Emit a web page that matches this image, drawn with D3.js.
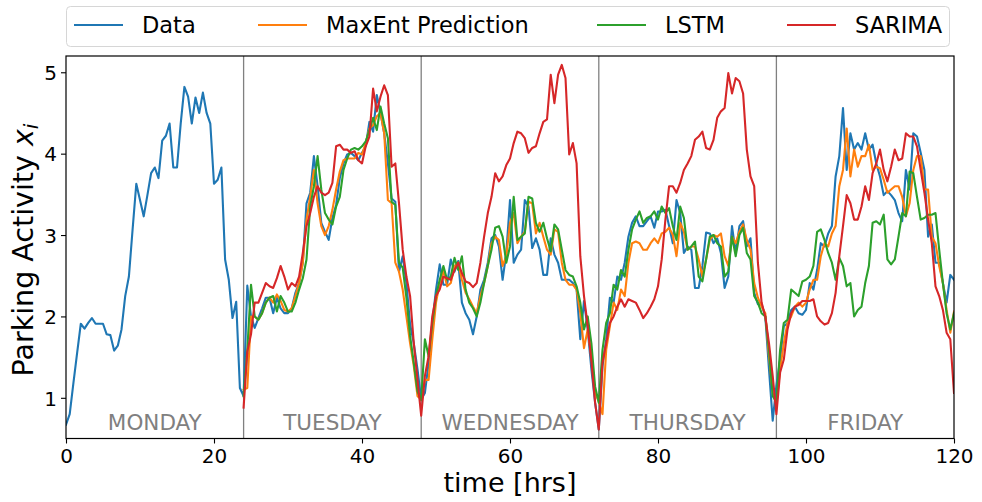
<!DOCTYPE html>
<html>
<head>
<meta charset="utf-8">
<script src="https://cdn.jsdelivr.net/npm/d3@7"></script>
<style>
  html, body { margin: 0; padding: 0; background: #fff; }
  svg { display: block; font-family: "DejaVu Sans", sans-serif; }
</style>
</head>
<body>
<svg id="chart" width="982" height="502"></svg>
<script>
// ---------- data (half-hour samples) ----------
const dataStart = 0;      // hours
const predStart = 24;     // hours
const stepHrs = 0.5;

const dataSeries = [
  // Monday
  0.67, 0.80, 1.18, 1.55, 1.91, 1.85, 1.92, 1.98, 1.91, 1.91,
  1.91, 1.78, 1.77, 1.58, 1.64, 1.84, 2.25, 2.49, 3.07, 3.63,
  3.43, 3.23, 3.49, 3.76, 3.83, 3.70, 4.16, 4.22, 4.37, 3.83,
  3.83, 4.37, 4.82, 4.70, 4.37, 4.69, 4.50, 4.75, 4.50, 4.37,
  3.63, 3.68, 3.83, 2.70, 2.45, 1.98, 2.18, 1.12,
  // Tuesday
  1.02, 2.38, 2.00, 1.86, 1.98, 2.10, 2.23, 2.23, 2.04, 2.23,
  2.10, 2.04, 2.04, 2.10, 2.29, 2.41, 2.66, 3.39, 3.52, 3.97,
  3.60, 3.15, 3.04, 2.94, 3.21, 3.37, 3.70, 3.88, 3.99, 4.01,
  3.97, 3.92, 4.01, 4.09, 4.39, 4.27, 4.72, 4.50, 4.25, 3.88,
  3.45, 3.41, 2.55, 2.74, 2.41, 1.90, 1.67, 1.35,
  // Wednesday
  0.98, 1.06, 1.43, 1.92, 2.33, 2.64, 2.39, 2.39, 2.70, 2.55,
  2.68, 2.17, 2.04, 1.96, 1.78, 2.00, 2.33, 2.45, 2.66, 2.96,
  3.00, 2.86, 2.45, 2.78, 3.43, 2.66, 2.76, 2.82, 3.43, 3.35,
  2.84, 2.96, 2.82, 2.51, 2.51, 2.96, 2.76, 2.66, 2.45, 2.45,
  2.45, 2.41, 2.33, 1.72, 2.19, 1.84, 1.35, 0.94,
  // Thursday
  0.61, 1.39, 1.72, 2.23, 2.17, 2.49, 2.45, 2.66, 2.98, 3.15,
  3.23, 3.11, 3.11, 3.17, 3.23, 3.09, 3.29, 3.29, 3.31, 3.11,
  2.90, 3.43, 3.27, 2.78, 2.86, 2.82, 2.35, 2.35, 2.62, 3.03,
  3.02, 2.90, 2.96, 2.78, 2.35, 2.49, 3.11, 2.78, 3.11, 3.17,
  2.86, 2.96, 2.29, 2.15, 2.15, 2.00, 1.35, 0.72,
  // Friday
  1.15, 1.47, 1.88, 1.92, 2.08, 2.12, 2.04, 2.02, 2.08, 2.41,
  2.33, 2.57, 2.90, 2.86, 3.02, 3.11, 3.72, 3.97, 4.56, 3.80,
  4.25, 4.05, 4.13, 4.05, 4.25, 4.05, 4.11, 3.88, 3.72, 3.49,
  3.54, 3.49, 3.43, 3.27, 3.17, 3.80, 3.56, 4.25, 4.21, 4.01,
  3.80, 2.98, 3.13, 2.66, 2.66, 2.41, 2.17, 2.51, 2.45
];

const maxentSeries = [
  // Tuesday
  1.10, 1.12, 2.00, 2.00, 1.96, 2.04, 2.17, 2.23, 2.17, 2.27,
  2.19, 2.08, 2.06, 2.10, 2.25, 2.41, 2.66, 3.19, 3.47, 3.80,
  3.39, 3.11, 3.00, 3.11, 3.31, 3.56, 3.78, 3.92, 3.94, 3.94,
  3.94, 4.01, 3.99, 4.13, 4.31, 4.35, 4.46, 4.50, 4.25, 3.43,
  3.39, 2.66, 2.55, 2.33, 2.00, 1.67, 1.39, 1.02,
  // Wednesday
  0.98, 1.22, 1.22, 1.72, 2.17, 2.41, 2.57, 2.37, 2.41, 2.62,
  2.66, 2.45, 2.29, 2.21, 2.12, 2.04, 2.25, 2.41, 2.62, 2.90,
  2.98, 2.94, 2.62, 2.74, 3.15, 3.27, 2.90, 2.98, 3.04, 3.41,
  3.39, 3.02, 3.15, 2.98, 2.82, 2.76, 3.07, 3.04, 2.66, 2.45,
  2.39, 2.39, 2.33, 2.04, 1.61, 1.84, 1.51, 1.06,
  // Thursday
  0.95, 0.80, 1.59, 1.88, 2.17, 2.08, 2.33, 2.25, 2.66, 2.90,
  2.92, 2.90, 2.82, 2.82, 2.90, 2.96, 2.90, 3.02, 3.04, 3.09,
  3.00, 2.74, 3.15, 3.04, 2.82, 2.86, 2.86, 2.70, 2.49, 2.70,
  2.94, 3.00, 2.98, 3.02, 2.74, 2.62, 2.98, 2.90, 3.04, 3.13,
  2.94, 2.82, 2.41, 2.23, 2.12, 2.04, 1.51, 1.06,
  // Friday
  0.92, 1.35, 1.67, 1.92, 2.00, 2.12, 2.17, 2.12, 2.17, 2.33,
  2.45, 2.45, 2.74, 2.90, 2.86, 3.02, 3.11, 3.60, 3.80, 4.31,
  3.72, 4.05, 3.84, 3.97, 3.97, 4.11, 3.80, 3.84, 3.82, 3.68,
  3.52, 3.56, 3.60, 3.60, 3.47, 3.23, 3.39, 3.80, 3.97, 3.97,
  3.56, 3.56, 2.98, 2.90, 2.62, 2.41, 2.08, 1.80, 2.06
];

const lstmSeries = [
  // Tuesday
  1.02, 1.59, 2.39, 2.00, 1.96, 2.04, 2.17, 2.23, 2.25, 2.06,
  2.25, 2.17, 2.06, 2.06, 2.17, 2.33, 2.47, 2.70, 3.35, 3.60,
  3.97, 3.56, 3.27, 3.19, 3.13, 3.35, 3.47, 3.80, 3.94, 4.05,
  4.07, 4.05, 4.09, 4.15, 4.29, 4.44, 4.29, 4.58, 4.37, 4.19,
  3.41, 3.37, 2.66, 2.60, 2.23, 1.76, 1.43, 1.08,
  // Wednesday
  0.97, 1.72, 1.51, 1.92, 2.25, 2.45, 2.62, 2.45, 2.49, 2.72,
  2.57, 2.74, 2.33, 2.17, 2.10, 2.00, 2.17, 2.41, 2.62, 2.82,
  3.09, 3.11, 2.98, 2.66, 2.86, 3.47, 2.94, 2.98, 3.02, 3.47,
  3.45, 3.15, 3.04, 3.15, 2.96, 2.80, 3.13, 3.07, 2.82, 2.57,
  2.51, 2.49, 2.37, 2.17, 1.84, 2.00, 1.67, 1.14,
  // Thursday
  0.94, 1.59, 1.92, 2.04, 2.39, 2.33, 2.57, 2.49, 2.82, 3.07,
  3.19, 3.29, 3.15, 3.21, 3.23, 3.29, 3.19, 3.35, 3.27, 3.33,
  3.11, 2.94, 3.35, 3.21, 2.82, 2.86, 2.92, 2.49, 2.43, 2.70,
  2.98, 3.00, 2.90, 2.86, 2.49, 2.55, 2.98, 2.74, 3.00, 3.09,
  2.78, 2.70, 2.25, 2.17, 2.04, 2.00, 1.59, 1.02,
  // Friday
  0.95, 1.59, 1.92, 1.96, 2.33, 2.29, 2.25, 2.43, 2.45, 2.49,
  2.62, 3.04, 3.07, 2.94, 2.78, 2.66, 2.45, 2.72, 2.62, 2.37,
  2.41, 2.00, 2.08, 2.12, 2.41, 2.62, 3.15, 3.17, 3.13, 3.25,
  2.70, 2.64, 2.70, 2.98, 3.27, 3.23, 3.78, 3.76, 3.47, 3.19,
  3.21, 3.25, 3.25, 3.27, 2.82, 2.41, 2.04, 1.84, 2.04
];

const sarimaSeries = [
  // Tuesday
  0.88, 1.57, 1.78, 2.17, 2.17, 2.29, 2.41, 2.37, 2.35, 2.47,
  2.62, 2.49, 2.33, 2.41, 2.37, 2.49, 2.78, 3.11, 3.27, 3.47,
  3.60, 3.52, 3.49, 3.52, 3.64, 4.09, 4.11, 4.05, 4.05, 4.01,
  4.03, 3.92, 3.88, 4.09, 4.21, 4.80, 4.52, 4.70, 4.84, 4.72,
  3.84, 3.88, 3.39, 2.82, 2.49, 2.25, 1.67, 1.22,
  // Wednesday
  0.78, 1.27, 1.51, 2.00, 2.25, 2.33, 2.49, 2.47, 2.45, 2.57,
  2.66, 2.53, 2.43, 2.41, 2.36, 2.41, 2.66, 2.98, 3.27, 3.47,
  3.76, 3.66, 3.72, 3.86, 3.94, 4.13, 4.27, 4.25, 4.19, 4.01,
  4.07, 4.09, 4.25, 4.39, 4.42, 4.97, 4.62, 4.97, 5.09, 4.93,
  3.99, 4.13, 3.88, 2.74, 2.25, 1.88, 1.45, 0.94,
  // Thursday
  0.61, 1.43, 1.67, 1.92, 2.00, 2.12, 2.21, 2.12, 2.21, 2.19,
  2.17, 2.08, 1.98, 2.04, 2.12, 2.21, 2.37, 2.70, 3.19, 3.60,
  3.60, 3.52, 3.64, 3.80, 3.88, 3.97, 4.17, 4.21, 4.27, 4.07,
  4.05, 4.17, 4.44, 4.52, 4.56, 4.99, 4.74, 4.93, 4.89, 4.74,
  4.05, 3.72, 3.60, 2.66, 2.17, 2.00, 1.67, 1.27,
  // Friday
  0.80, 1.31, 1.47, 1.84, 2.04, 2.12, 2.14, 2.19, 2.19, 2.19,
  2.21, 2.00, 1.94, 1.90, 1.92, 2.04, 2.29, 2.74, 3.11, 3.49,
  3.39, 3.19, 3.19, 3.35, 3.60, 3.43, 3.76, 3.88, 4.05, 3.80,
  3.66, 3.84, 4.05, 3.92, 3.94, 4.25, 4.21, 4.21, 4.09, 3.80,
  3.52, 3.19, 2.90, 2.37, 2.25, 2.08, 1.80, 1.72, 1.06
];

const seriesNames = ["Data", "MaxEnt Prediction", "LSTM", "SARIMA"];
const seriesColors = ["#1f77b4", "#ff7f0e", "#2ca02c", "#d62728"];
const dayNames = ["MONDAY", "TUESDAY", "WEDNESDAY", "THURSDAY", "FRIDAY"];
const dayBoundaries = [24, 48, 72, 96];
const xTicks = [0, 20, 40, 60, 80, 100, 120];
const yTicks = [1, 2, 3, 4, 5];

// ---------- layout ----------
const svg = d3.select("#chart");
const m = { left: 66, right: 954, top: 56, bottom: 438.5 };

const x = d3.scaleLinear().domain([0, 120]).range([m.left, m.right]);
const y = d3.scaleLinear().domain([0.5, 5.2]).range([m.bottom, m.top]);

const toPts = (arr, start) => arr.map((v, i) => [start + i * stepHrs, v]);
const allSeries = [
  toPts(dataSeries, dataStart),
  toPts(maxentSeries, predStart),
  toPts(lstmSeries, predStart),
  toPts(sarimaSeries, predStart)
];

// clip
svg.append("defs").append("clipPath").attr("id", "clip")
  .append("rect").attr("x", m.left).attr("y", m.top)
  .attr("width", m.right - m.left).attr("height", m.bottom - m.top);

// day separators
svg.append("g").selectAll("line").data(dayBoundaries).join("line")
  .attr("x1", d => x(d)).attr("x2", d => x(d))
  .attr("y1", m.top).attr("y2", m.bottom)
  .attr("stroke", "#808080").attr("stroke-width", 1.3);

// day labels
svg.append("g").selectAll("text").data(dayNames).join("text")
  .attr("x", (d, i) => x(i * 24 + 12))
  .attr("y", 430)
  .attr("text-anchor", "middle")
  .attr("font-size", 21.5)
  .attr("fill", "#808080")
  .text(d => d);

// lines
const line = d3.line().x(d => x(d[0])).y(d => y(d[1]));
svg.append("g").attr("clip-path", "url(#clip)")
  .selectAll("path").data(allSeries).join("path")
  .attr("d", line)
  .attr("fill", "none")
  .attr("stroke", (d, i) => seriesColors[i])
  .attr("stroke-width", 2.1)
  .attr("stroke-linejoin", "round")
  .attr("stroke-linecap", "square");

// axes
const xAxis = d3.axisBottom(x).tickValues(xTicks).tickSize(5).tickPadding(4).tickFormat(d3.format("d"));
const yAxis = d3.axisLeft(y).tickValues(yTicks).tickSize(5).tickPadding(4).tickFormat(d3.format("d"));

const gx = svg.append("g").attr("transform", `translate(0,${m.bottom})`).call(xAxis);
const gy = svg.append("g").attr("transform", `translate(${m.left},0)`).call(yAxis);
[gx, gy].forEach(g => {
  g.select(".domain").remove();
  g.selectAll(".tick line").attr("stroke", "#000").attr("stroke-width", 1.1);
  g.selectAll(".tick text").attr("font-size", 20).attr("fill", "#000")
    .attr("font-family", "DejaVu Sans");
});
gx.selectAll(".tick text").attr("dy", "0.78em");
gy.selectAll(".tick text").attr("dy", "0.36em");

// frame
svg.append("rect")
  .attr("x", m.left).attr("y", m.top)
  .attr("width", m.right - m.left).attr("height", m.bottom - m.top)
  .attr("fill", "none").attr("stroke", "#000").attr("stroke-width", 1.2);

// axis labels
svg.append("text")
  .attr("x", (m.left + m.right) / 2).attr("y", 492)
  .attr("text-anchor", "middle").attr("font-size", 27).attr("fill", "#000")
  .text("time [hrs]");

const yl = svg.append("text")
  .attr("transform", `translate(33,250) rotate(-90)`)
  .attr("text-anchor", "middle").attr("font-size", 28.5).attr("fill", "#000");
yl.append("tspan").text("Parking Activity ");
yl.append("tspan").attr("font-style", "italic").text("x");
yl.append("tspan").attr("font-style", "italic").attr("font-size", 20).attr("dy", 5).text("i");

// legend
const legendEntryX = [74, 258, 597, 787];
const lg = svg.append("g");
lg.append("rect")
  .attr("x", 66.5).attr("y", 6.5).attr("width", 883).attr("height", 40)
  .attr("rx", 4).attr("fill", "#fff")
  .attr("stroke", "#d6d6d6").attr("stroke-width", 1);
const items = lg.selectAll("g.item").data(seriesNames).join("g")
  .attr("class", "item")
  .attr("transform", (d, i) => `translate(${legendEntryX[i]},25)`);
items.append("line").attr("x1", 0).attr("x2", 49).attr("y1", 0).attr("y2", 0)
  .attr("stroke", (d, i) => seriesColors[i]).attr("stroke-width", 2.1);
items.append("text").attr("x", 68).attr("y", 0).attr("dy", "0.36em")
  .attr("font-size", 22.5).attr("fill", "#000").text(d => d);
</script>
</body>
</html>
